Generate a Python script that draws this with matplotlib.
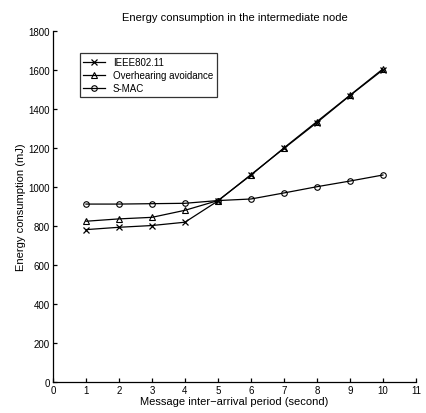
import matplotlib
matplotlib.use("Agg")
import matplotlib.pyplot as plt

plt.rcParams['font.family'] = ['Liberation Sans', 'DejaVu Sans']

# message inter-arrival period (s)
period = [1, 2, 3, 4, 5, 6, 7, 8, 9, 10]

# energy consumption (mJ)
ieee80211 = [781, 793, 802, 819, 928, 1063, 1197, 1330, 1468, 1600]
overhearing = [824, 836, 844, 880, 930, 1060, 1200, 1335, 1470, 1605]
smac = [912, 912, 914, 916, 930, 938, 969, 1001, 1030, 1061]

fig = plt.figure(figsize=(4.27, 4.14), dpi=100)
ax = fig.add_axes([0.124, 0.075, 0.85, 0.848])

ax.plot(period, ieee80211, color="black", lw=0.9, marker="x", ms=4, mew=0.9, label="IEEE802.11")
ax.plot(period, overhearing, color="black", lw=0.9, marker="^", ms=4.5, mfc="none", mew=0.8,
        label="Overhearing avoidance")
ax.plot(period, smac, color="black", lw=0.9, marker="o", ms=4, mfc="none", mew=0.8, label="S-MAC")

ax.set_xlim(0, 11)
ax.set_ylim(0, 1800)
ax.set_xticks(range(0, 12))
ax.set_yticks(range(0, 1801, 200))
ax.tick_params(direction="in", length=3, width=0.9, labelsize=7, pad=2)
for s in ["top", "right"]:
    ax.spines[s].set_visible(False)
for s in ["left", "bottom"]:
    ax.spines[s].set_linewidth(0.9)

ax.set_title("Energy consumption in the intermediate node", fontsize=8, pad=8)
ax.set_xlabel("Message inter\u2212arrival period (second)", fontsize=8, labelpad=1)
ax.set_ylabel("Energy consumption (mJ)", fontsize=8, labelpad=2)

leg = ax.legend(loc="upper left", bbox_to_anchor=(0.06, 0.95), fontsize=7, frameon=True,
                fancybox=False, edgecolor="black", handlelength=2.2, borderpad=0.4,
                labelspacing=0.3)
leg.get_frame().set_linewidth(0.9)

fig.savefig("out.png", dpi=100)
